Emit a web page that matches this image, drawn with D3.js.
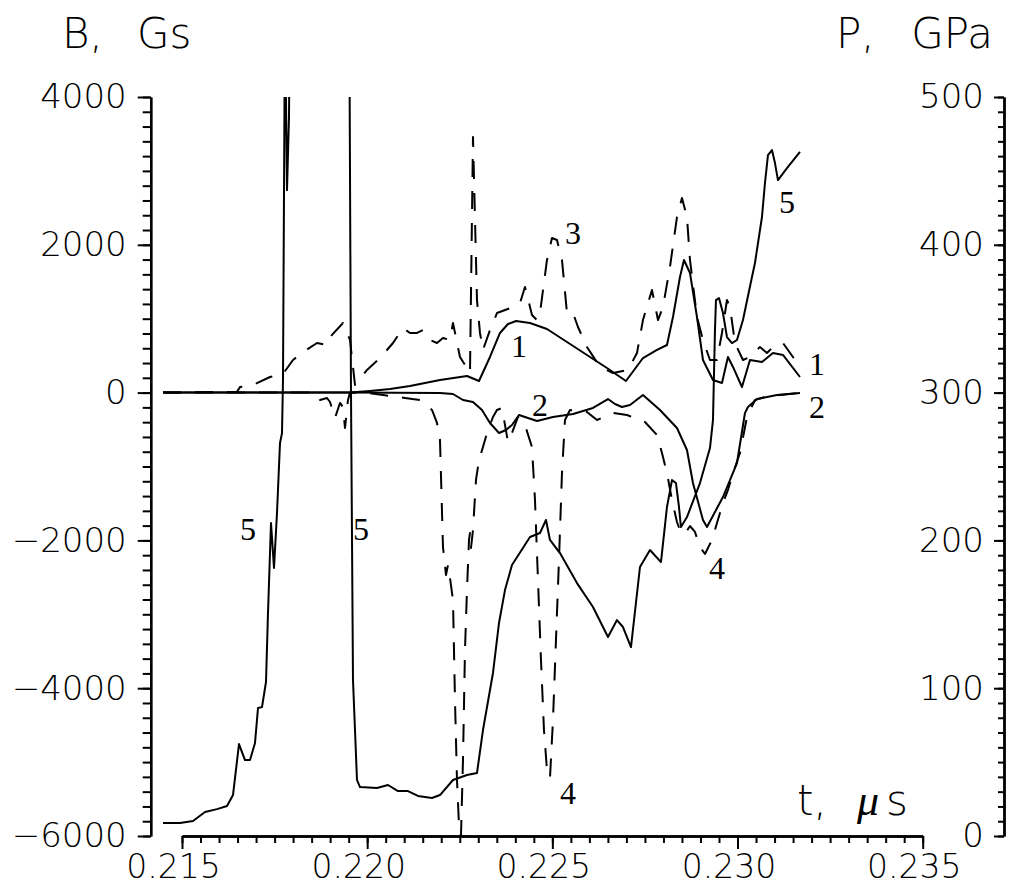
<!DOCTYPE html>
<html>
<head>
<meta charset="utf-8">
<script src="https://cdn.jsdelivr.net/npm/d3@7"></script>
<style>
  html, body { margin: 0; padding: 0; background: #fff; }
  svg { display: block; }
</style>
</head>
<body>
<svg id="chart" width="1012" height="886"></svg>
<script>
// ---------- DATA ----------
const xTicksMajor = [0.215, 0.220, 0.225, 0.230, 0.235];
const bTicksMajor = [-6000, -4000, -2000, 0, 2000, 4000];
const pTicksMajor = [0, 100, 200, 300, 400, 500];

// curve 1 : B (Gs), solid
const curve1 = [
  [0.214487,0],[0.216836,0],[0.219536,0],[0.220076,22],[0.220616,49],[0.221156,89],[0.221561,130],
  [0.221966,171],[0.222695,225],
  [0.223019,157],[0.223316,482],[0.223586,807],[0.223802,928],[0.224018,969],[0.224207,955],
  [0.224396,942],[0.224855,861],[0.225395,685],[0.225935,509],[0.226475,333],[0.226988,157],
  [0.227447,468],[0.227825,577],[0.228095,644],[0.228257,1023],[0.228446,1564],[0.228554,1794],
  [0.228716,1619],[0.228905,1023],[0.229067,441],[0.229337,171],[0.229580,130],[0.229742,482],
  [0.229877,347],[0.230120,76],[0.230336,441],[0.230660,414],[0.230957,536],[0.231227,509],
  [0.231686,211]
];
// curve 2 : B (Gs), solid
const curve2 = [
  [0.214487,0],[0.219536,0],[0.221966,-5],[0.222317,-19],[0.222587,-100],[0.222857,-127],
  [0.223100,-235],[0.223316,-411],[0.223559,-547],[0.223748,-506],[0.223910,-438],[0.224099,-303],
  [0.224261,-330],[0.224585,-384],[0.225017,-330],[0.225557,-290],[0.226097,-208],[0.226502,-87],
  [0.226691,-154],[0.226880,-195],[0.227096,-168],[0.227447,-33],[0.227906,-235],[0.228365,-479],
  [0.228635,-777],[0.228797,-1223],[0.229067,-1724],[0.229175,-1818],[0.229607,-1413],[0.229985,-953],
  [0.230201,-276],[0.230282,-195],[0.230525,-87],[0.231065,-33],[0.231686,-5]
];
// curve 3 : B (Gs), dashed
const curve3 = [
  [0.214487,0],[0.216485,10],[0.216566,76],[0.216917,103],[0.217376,211],[0.217727,252],
  [0.217997,441],[0.218267,549],[0.218645,671],[0.218915,644],[0.218996,752],[0.219347,942],
  [0.219536,712],[0.219671,103],[0.219995,306],[0.220346,468],[0.220697,671],[0.220967,874],
  [0.221156,807],[0.221345,807],[0.221507,847],[0.221696,712],[0.221885,671],[0.222047,739],
  [0.222236,712],[0.222317,942],[0.222506,482],[0.222776,265],[0.222857,3459],[0.222965,1253],
  [0.223046,807],[0.223127,577],[0.223316,847],[0.223505,1077],[0.223937,1158],[0.224126,1213],
  [0.224261,1429],[0.224450,1050],[0.224585,982],[0.224666,1077],[0.224855,1795],[0.224990,2092],
  [0.225125,2065],[0.225260,1795],[0.225395,1077],[0.225557,1077],[0.225692,888],[0.225935,617],
  [0.226286,347],[0.226637,265],[0.227042,306],[0.227285,536],[0.227447,982],[0.227690,1389],
  [0.227852,982],[0.227987,1158],[0.228176,1700],[0.228365,2376],[0.228500,2633],[0.228635,2376],
  [0.228716,1795],[0.228905,1023],[0.229067,712],[0.229256,441],[0.229445,441],[0.229580,807],
  [0.229715,1253],[0.229796,1158],[0.229931,671],[0.230147,441],[0.230336,482],[0.230606,617],
  [0.230795,536],[0.230957,617],[0.231227,671],[0.231497,482],[0.231686,347]
];
// curve 4 : B (Gs), dashed
const curve4 = [
  [0.214487,0],[0.218591,0],[0.218645,-33],[0.218726,-100],[0.218915,-73],[0.218996,-127],
  [0.219131,-343],[0.219266,-140],[0.219347,-195],[0.219401,-479],[0.219482,-100],[0.219536,0],
  [0.220022,-5],[0.220427,-33],[0.221021,-73],[0.221426,-100],[0.221750,-235],[0.221885,-411],
  [0.221966,-641],[0.222047,-2089],[0.222128,-2468],[0.222182,-2333],[0.222236,-2509],[0.222317,-2806],
  [0.222371,-4159],[0.222425,-5242],[0.222479,-5851],[0.222533,-6000],[0.222587,-4971],[0.222641,-3483],
  [0.222695,-2671],[0.222749,-1994],[0.222776,-1900],[0.222803,-2103],[0.222857,-1859],[0.222938,-1182],
  [0.223019,-912],[0.223127,-736],[0.223235,-547],[0.223397,-330],[0.223505,-235],[0.223640,-208],
  [0.223802,-668],[0.223910,-547],[0.224072,-330],[0.224261,-438],[0.224450,-736],[0.224531,-1453],
  [0.224612,-2536],[0.224693,-3619],[0.224774,-4565],[0.224855,-5107],[0.224936,-5215],[0.225017,-4430],
  [0.225098,-3347],[0.225179,-2265],[0.225260,-1088],[0.225341,-371],[0.225476,-235],[0.225935,-262],
  [0.226205,-371],[0.226637,-276],[0.227015,-303],[0.227501,-398],[0.227825,-573],[0.227960,-817],
  [0.228095,-1088],[0.228230,-1453],[0.228365,-1751],[0.228473,-1900],[0.228581,-1913],[0.228716,-1805],
  [0.228851,-1886],[0.228986,-2089],[0.229121,-2184],[0.229310,-1994],[0.229445,-1764],[0.229607,-1494],
  [0.229742,-1318],[0.229877,-1088],[0.230066,-817],[0.230255,-330],[0.230471,-100],[0.230741,-60],
  [0.231146,-33],[0.231686,-5]
];
// curve 5 : P (GPa), solid, right axis
const curve5 = [
  [0.214487,8.8],[0.214946,8.8],[0.215297,10.1],[0.215621,16.2],[0.215945,18.2],[0.216215,20.3],
  [0.216377,27.7],[0.216539,62.2],[0.216701,51.4],[0.216836,51.4],[0.216971,62.9],[0.217052,86.6],
  [0.217160,87.2],[0.217268,104.2],[0.217322,150.9],[0.217403,211.7],[0.217484,181.3],[0.217565,218.5],
  [0.217646,265.9],[0.217700,272.6],[0.217727,308.5],[0.217781,560],[0.217835,437.0],[0.217889,486.4],
  [0.217943,650],[0.219482,650],[0.219509,600],[0.219563,300],[0.219617,105.5],[0.219725,37.9],
  [0.219806,33.1],[0.220265,32.5],[0.220562,34.5],[0.220832,30.4],[0.221102,30.4],[0.221372,27.1],
  [0.221750,25.7],[0.221966,27.7],[0.222317,37.9],[0.222695,41.3],[0.222965,42.6],[0.223127,71.7],
  [0.223397,110.3],[0.223559,144.1],[0.223721,166.4],[0.223910,183.3],[0.224396,202.3],[0.224666,205.0],
  [0.224828,213.8],[0.224936,200.3],[0.225206,191.4],[0.225665,171.1],[0.226097,154.9],[0.226502,134.6],
  [0.226745,146.1],[0.226907,141.4],[0.227123,127.8],[0.227366,182.0],[0.227636,193.5],[0.227933,185.3],
  [0.228095,222.6],[0.228230,240.8],[0.228338,238.8],[0.228419,222.6],[0.228473,209.0],[0.228635,215.8],
  [0.228986,238.8],[0.229256,262.5],[0.229337,281.4],[0.229391,342.3],[0.229418,362.6],[0.229499,364.0],
  [0.229607,353.8],[0.229715,337.6],[0.229850,333.5],[0.229985,335.6],[0.230147,349.1],[0.230390,378.2],
  [0.230471,387.7],[0.230660,418.8],[0.230741,441.8],[0.230822,460.7],[0.230930,464.1],[0.231011,455.3],
  [0.231092,443.8],[0.231335,451.9],[0.231686,462.8]
];
// curve number labels : [text, t, B]
const curveLabels = [
  ["5", 0.216782, -1850], ["5", 0.219834, -1850], ["1", 0.224099, 626], ["2", 0.224666, -171],
  ["3", 0.225557, 2160], ["5", 0.231335, 2574], ["1", 0.232145, 389], ["2", 0.232145, -194],
  ["4", 0.229445, -2373], ["4", 0.225422, -5420]
];

// ---------- CHART ----------
const svg = d3.select("#chart");
svg.append("rect").attr("width", 1012).attr("height", 886).attr("fill", "#fff");

const x = d3.scaleLinear().domain([0.215, 0.235]).range([182, 922.7]);
const yB = d3.scaleLinear().domain([-6000, 4000]).range([836, 97]);
const yP = d3.scaleLinear().domain([0, 500]).range([836, 97]);

const FONT = "'DejaVu Sans', sans-serif";
const fmtB = d => d < 0 ? "\u2212" + Math.abs(d) : String(d);

function styleAxis(g, size) {
  g.selectAll(".domain").attr("stroke", "#000").attr("stroke-width", 2.4);
  g.selectAll(".tick line").attr("stroke", "#000").attr("stroke-width", 2);
  g.selectAll("text").attr("fill", "#000").attr("font-family", FONT)
    .attr("font-weight", 200).attr("font-size", size || 34);
}

// left axis (B)
const gL = svg.append("g").attr("transform", "translate(150.7,0)");
gL.append("g").call(d3.axisLeft(yB).tickValues(d3.range(-6000, 4001, 200)).tickSize(8).tickSizeOuter(0).tickFormat(""))
  .call(styleAxis);
gL.append("g").call(d3.axisLeft(yB).tickValues(bTicksMajor).tickSize(13).tickSizeOuter(0).tickPadding(11).tickFormat(fmtB))
  .call(styleAxis);

// right axis (P)
const gR = svg.append("g").attr("transform", "translate(1004,0)");
gR.append("g").call(d3.axisLeft(yP).tickValues(d3.range(0, 501, 10)).tickSize(6).tickSizeOuter(0).tickFormat(""))
  .call(styleAxis);
gR.append("g").call(d3.axisLeft(yP).tickValues(pTicksMajor).tickSize(10).tickSizeOuter(0).tickPadding(10).tickFormat(d => String(d)))
  .call(styleAxis);

// bottom axis (t)
const gB = svg.append("g").attr("transform", "translate(0,836)");
gB.append("g").call(d3.axisBottom(x).tickValues(d3.range(0, 41).map(i => 0.215 + i * 0.0005)).tickSize(7).tickSizeOuter(0).tickFormat(""))
  .call(styleAxis);
const xl = gB.append("g").call(d3.axisBottom(x).tickValues(xTicksMajor).tickSize(13).tickSizeOuter(0).tickFormat(d3.format(".3f")));
styleAxis(xl, 33);
xl.selectAll("text").attr("y", 0).attr("dy", null).attr("dx", -9).attr("transform", "translate(0,42)");

// axis titles
const title = (txt, xx, yy, anchor) => svg.append("text").attr("x", xx).attr("y", yy)
  .attr("text-anchor", anchor || "start").attr("font-family", FONT).attr("font-weight", 200)
  .attr("font-size", 42).attr("fill", "#000").text(txt);
title("B,", 62, 48);
title("Gs", 137, 48);
title("P,", 836, 48);
title("GPa", 993, 48, "end");
title("t,", 797, 815);
svg.append("text").attr("x", 857).attr("y", 815).attr("font-family", "'Liberation Serif', serif")
  .attr("font-style", "italic").attr("font-size", 44).attr("fill", "#000").text("\u03bc");
title("s", 886, 815);

// curves
const clip = svg.append("clipPath").attr("id", "plotclip");
clip.append("rect").attr("x", 150).attr("y", 97).attr("width", 860).attr("height", 742);
const plot = svg.append("g").attr("clip-path", "url(#plotclip)");

const lineB = d3.line().x(d => x(d[0])).y(d => yB(d[1]));
const lineP = d3.line().x(d => x(d[0])).y(d => yP(d[1]));

const draw = (data, gen, dashed) => plot.append("path").datum(data).attr("d", gen)
  .attr("fill", "none").attr("stroke", "#000").attr("stroke-width", 2)
  .attr("stroke-linejoin", "round")
  .attr("stroke-dasharray", dashed ? "18,14" : null);

draw(curve3, lineB, true);
draw(curve4, lineB, true);
draw(curve1, lineB, false);
draw(curve2, lineB, false);
draw(curve5, lineP, false);

// curve labels
svg.append("g").selectAll("text").data(curveLabels).join("text")
  .attr("x", d => x(d[1])).attr("y", d => yB(d[2]))
  .attr("text-anchor", "middle").attr("dominant-baseline", "central")
  .attr("font-family", "'Liberation Serif', serif").attr("font-size", 32).attr("fill", "#000")
  .text(d => d[0]);
</script>
</body>
</html>
